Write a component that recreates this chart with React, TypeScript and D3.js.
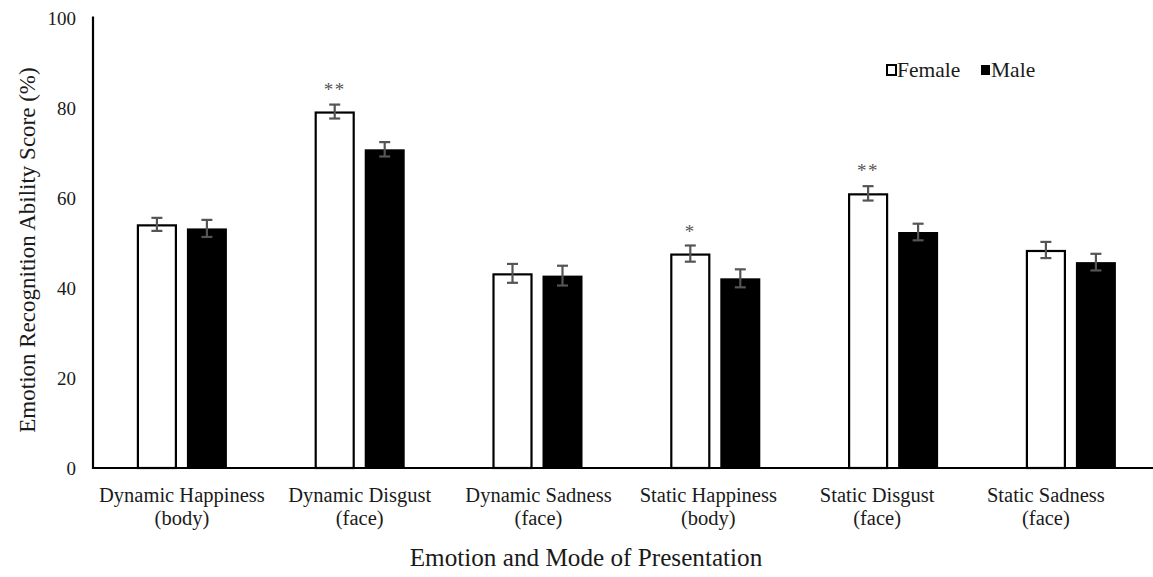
import React from "react";
import * as d3 from "d3";

const categories = [
  ["Dynamic Happiness", "(body)"],
  ["Dynamic Disgust", "(face)"],
  ["Dynamic Sadness", "(face)"],
  ["Static Happiness", "(body)"],
  ["Static Disgust", "(face)"],
  ["Static Sadness", "(face)"],
];
const series = ["Female", "Male"];
const femaleValues = [54.2, 79.3, 43.3, 47.7, 61.1, 48.5];
const maleValues = [53.3, 70.9, 42.8, 42.2, 52.5, 45.8];
const femaleErrors = [1.45, 1.55, 2.1, 1.8, 1.6, 1.8];
const maleErrors = [1.9, 1.6, 2.2, 2.0, 1.85, 1.85];
const significance = ["", "**", "", "*", "**", ""];
const yTicks = [0, 20, 40, 60, 80, 100];

const W = 1153;
const H = 577;
const FONT = "'Liberation Serif', 'Times New Roman', serif";
const labelShift = [0, 0, 1, -7, -16, -25];

export default function App() {
  const left = 93;
  const step = 177.8;
  const x0 = d3
    .scaleBand<number>()
    .domain(categories.map((_, i) => i))
    .range([left, left + step * categories.length])
    .paddingInner(0)
    .paddingOuter(0);
  const x1 = d3.scaleBand<string>().domain(series).range([-45, 45]).paddingInner(0.2);
  const y = d3.scaleLinear().domain([0, 100]).range([468, 18.5]);

  const values = [femaleValues, maleValues];
  const errors = [femaleErrors, maleErrors];

  return (
    <svg
      width={W}
      height={H}
      style={{ position: "absolute", left: 0, top: 0, background: "#fff", fontFamily: FONT }}
    >
      <rect x={0} y={0} width={W} height={H} fill="#fff" />
      {yTicks.map((t) => (
        <text key={t} x={76} y={y(t) + 6.5} textAnchor="end" fontSize={19} fill="#1a1a1a">
          {t}
        </text>
      ))}
      <text
        transform={`translate(35, ${250}) rotate(-90)`}
        textAnchor="middle"
        fontSize={23}
        fill="#1a1a1a"
      >
        Emotion Recognition Ability Score (%)
      </text>

      {categories.map((cat, i) => {
        const cx = (x0(i) as number) + x0.bandwidth() / 2;
        return (
          <g key={i}>
            {series.map((s, si) => {
              const bx = cx + (x1(s) as number);
              const bw = x1.bandwidth();
              const v = values[si][i];
              const e = errors[si][i];
              const top = y(v);
              const mid = bx + bw / 2;
              return (
                <g key={s}>
                  <rect
                    x={si === 0 ? bx + 1 : bx}
                    y={si === 0 ? top + 1 : top}
                    width={si === 0 ? bw - 2 : bw}
                    height={si === 0 ? y(0) - top - 1 : y(0) - top}
                    fill={si === 0 ? "#fff" : "#000"}
                    stroke="#000"
                    strokeWidth={si === 0 ? 2.2 : 0}
                  />
                  <g stroke="#555" strokeWidth={2.2}>
                    <line x1={mid} x2={mid} y1={y(v + e)} y2={y(v - e)} />
                    <line x1={mid - 5.5} x2={mid + 5.5} y1={y(v + e)} y2={y(v + e)} />
                    <line x1={mid - 5.5} x2={mid + 5.5} y1={y(v - e)} y2={y(v - e)} />
                  </g>
                </g>
              );
            })}
            {significance[i] && (
              <text
                x={cx + (x1("Female") as number) + x1.bandwidth() / 2}
                y={y(femaleValues[i]) - 26 + 10}
                textAnchor="middle"
                fontSize={19}
                letterSpacing={1.5}
                fill="#555"
              >
                {significance[i]}
              </text>
            )}
            <text x={cx + labelShift[i]} y={502} textAnchor="middle" fontSize={20.5} fill="#1a1a1a">
              {cat[0]}
            </text>
            <text x={cx + labelShift[i]} y={525} textAnchor="middle" fontSize={20.5} fill="#1a1a1a">
              {cat[1]}
            </text>
          </g>
        );
      })}

      <line x1={left} x2={left} y1={16.5} y2={y(0) + 1} stroke="#000" strokeWidth={2.2} />
      <line x1={left - 1} x2={W} y1={y(0)} y2={y(0)} stroke="#000" strokeWidth={2.2} />

      <text x={586} y={566} textAnchor="middle" fontSize={25.2} fill="#1a1a1a">
        Emotion and Mode of Presentation
      </text>

      {series.map((s, si) => {
        const lx = si === 0 ? 886 : 980;
        return (
          <g key={s}>
            <rect
              x={lx + 1}
              y={65}
              width={9}
              height={10}
              fill={si === 0 ? "#fff" : "#000"}
              stroke="#000"
              strokeWidth={si === 0 ? 2 : 0}
            />
            <text x={lx + 11} y={77} fontSize={21.5} fill="#1a1a1a">
              {s}
            </text>
          </g>
        );
      })}
    </svg>
  );
}
